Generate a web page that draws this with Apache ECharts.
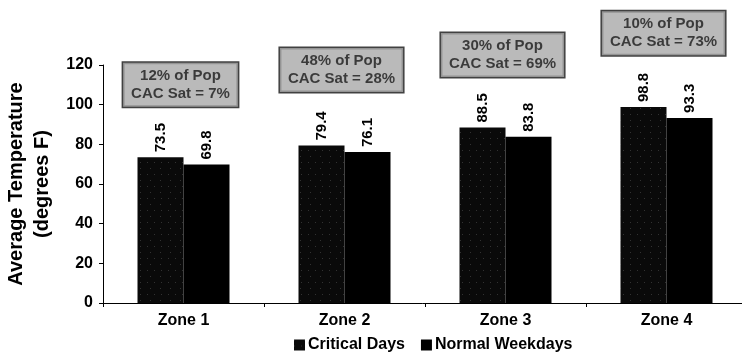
<!DOCTYPE html>
<html>
<head>
<meta charset="utf-8">
<script src="https://cdn.jsdelivr.net/npm/echarts@6/dist/echarts.min.js"></script>
<style>
  html, body { margin: 0; padding: 0; background: #fff; }
  #chart { width: 742px; height: 358px; }
</style>
</head>
<body>
<div id="chart"></div>
<script>
const categories = ['Zone 1', 'Zone 2', 'Zone 3', 'Zone 4'];
const criticalDays = [73.5, 79.4, 88.5, 98.8];
const normalWeekdays = [69.8, 76.1, 83.8, 93.3];
const boxLine1 = ['12% of Pop', '48% of Pop', '30% of Pop', '10% of Pop'];
const boxLine2 = ['CAC Sat = 7%', 'CAC Sat = 28%', 'CAC Sat = 69%', 'CAC Sat = 73%'];
const boxLevel = [110, 117.5, 125, 136];
const yTicks = [0, 20, 40, 60, 80, 100, 120];

const FONT = '"Liberation Sans", Arial, sans-serif';

const chart = echarts.init(document.getElementById('chart'), null, { renderer: 'canvas' });

const valueLabel = {
  show: true,
  position: 'top',
  distance: 5,
  rotate: 90,
  align: 'left',
  verticalAlign: 'middle',
  color: '#000',
  fontFamily: FONT,
  fontWeight: 'bold',
  fontSize: 15
};

chart.setOption({
  animation: false,
  backgroundColor: '#fff',
  grid: { left: 103, width: 644, top: 65, bottom: 55, containLabel: false, outerBoundsMode: 'none' },
  legend: {
    data: ['Critical Days', 'Normal Weekdays'],
    left: 289,
    top: 332,
    itemWidth: 11,
    itemHeight: 11,
    itemGap: 16,
    icon: 'rect',
    textStyle: { fontFamily: FONT, fontWeight: 'bold', fontSize: 16, color: '#000', padding: [0, 0, 0, -2] }
  },
  xAxis: {
    type: 'category',
    data: categories,
    axisLine: { lineStyle: { color: '#000', width: 1 } },
    axisTick: { show: true, length: 4, alignWithLabel: false, lineStyle: { color: '#000' } },
    axisLabel: { color: '#000', fontFamily: FONT, fontWeight: 'bold', fontSize: 16, margin: 10 }
  },
  yAxis: {
    type: 'value',
    min: yTicks[0],
    max: yTicks[yTicks.length - 1],
    interval: yTicks[1] - yTicks[0],
    name: 'Average Temperature\n(degrees F)',
    nameLocation: 'middle',
    nameGap: 44,
    nameTextStyle: { color: '#000', fontFamily: FONT, fontWeight: 'bold', fontSize: 20, lineHeight: 26, align: 'center' },
    axisLine: { show: true, lineStyle: { color: '#000', width: 1 } },
    axisTick: { show: true, length: 4, lineStyle: { color: '#000' } },
    splitLine: { show: false },
    axisLabel: { color: '#000', fontFamily: FONT, fontWeight: 'bold', fontSize: 16, margin: 10 }
  },
  series: [
    {
      name: 'Critical Days',
      type: 'bar',
      data: criticalDays,
      barWidth: 46,
      barGap: '0%',
      itemStyle: {
        color: '#0a0a0a',
        decal: {
          symbol: 'rect',
          symbolSize: 0.6,
          color: 'rgba(255,255,255,0.55)',
          dashArrayX: [[1, 6], [1, 9]],
          dashArrayY: [1, 5],
          rotation: 0
        }
      },
      label: valueLabel
    },
    {
      name: 'Normal Weekdays',
      type: 'bar',
      data: normalWeekdays,
      barWidth: 46,
      barGap: '0%',
      itemStyle: { color: '#000' },
      label: valueLabel
    },
    {
      name: 'boxes',
      type: 'scatter',
      clip: false,
      silent: true,
      symbolSize: 0,
      data: boxLevel.map((v, i) => [categories[i], v]),
      label: {
        show: true,
        position: 'inside',
        formatter: (p) => boxLine1[p.dataIndex] + '\n' + boxLine2[p.dataIndex],
        color: '#1a1a1a',
        fontFamily: FONT,
        fontWeight: 'bold',
        fontSize: 15,
        lineHeight: 18,
        align: 'center',
        verticalAlign: 'middle',
        backgroundColor: '#a9a9a9',
        borderColor: '#111',
        borderWidth: 1.5,
        padding: [4, 8, 4, 8],
        offset: [-3, 0]
      }
    }
  ]
});
</script>
</body>
</html>
